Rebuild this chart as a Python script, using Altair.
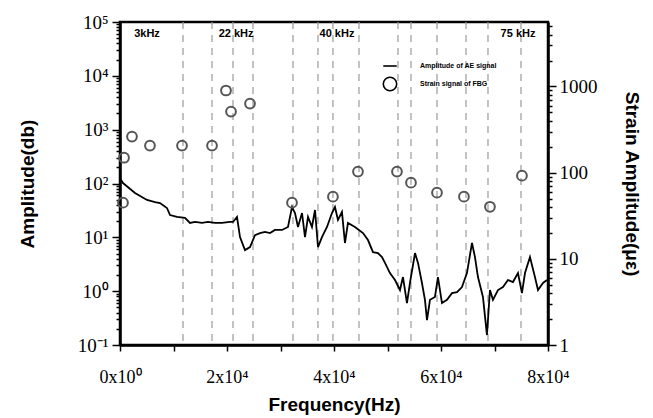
import altair as alt
import pandas as pd

# ---- data ----
freq = [0, 560, 2800, 5050, 6540, 7480, 8780, 9350, 10650, 12150, 13080, 14020, 15330, 16450,
        17760, 19060, 20560, 21120, 21870, 22430, 23360, 24300, 25230, 26170, 27100, 28040,
        28970, 30280, 31400, 32150, 32710, 33270, 34020, 34580, 35140, 35880, 36450, 37010,
        37750, 38690, 39620, 40180, 40740, 41490, 42050, 42610, 43920, 45420, 46350, 47290,
        48220, 48970, 49530, 50460, 51400, 52330, 52890, 53640, 54200, 55140, 55700, 56440,
        57000, 57380, 57940, 58870, 59430, 60180, 61120, 62050, 62990, 63920, 64850, 65790,
        66350, 66910, 67840, 68590, 69150, 69710, 70650, 71580, 72520, 73450, 74390, 75130,
        75700, 76630, 77560, 78130, 79060, 79800]
amp = [126, 102, 66.6, 49.4, 45.3, 43.4, 35.1, 26.0, 23.9, 22.9, 18.5, 19.3, 18.5, 19.3,
       18.5, 18.5, 19.3, 19.3, 23.9, 10.1, 5.8, 6.6, 11.0, 12.0, 12.6, 12.0,
       13.7, 13.7, 15.6, 36.6, 28.3, 15.6, 28.3, 10.1, 23.9, 15.6, 32.2, 6.6,
       10.1, 15.6, 28.3, 36.6, 21.0, 29.5, 7.85, 18.5, 15.6, 12.0, 8.9, 5.3,
       5.1, 4.3, 3.35, 2.17, 1.61, 1.05, 1.83, 0.60, 1.42, 5.1, 3.35, 1.42,
       0.69, 0.29, 0.69, 0.78, 1.83, 0.60, 0.69, 0.92, 0.96, 1.19, 2.17, 7.85,
       4.3, 1.83, 0.78, 0.153, 1.05, 0.69, 1.05, 1.19, 1.61, 1.48, 2.17, 0.92,
       2.17, 4.3, 1.83, 1.05, 1.42, 1.61]

circ_freq = [750, 560, 2240, 5600, 11590, 17200, 19810, 20750, 24300, 32150, 39800,
             44480, 51770, 54390, 59250, 64290, 69150, 75130]
circ_strain = [149, 44.8, 262, 206, 206, 206, 898, 512, 634, 44.8, 52.6,
               103, 103, 76.5, 58.5, 52.6, 40.2, 92.3]

vline_freq = [11780, 17200, 21120, 24860, 32330, 37000, 39800, 44670, 51960, 54390,
              59250, 64670, 68780, 74950]

ann_text = ["3kHz", "22 kHz", "40 kHz", "75 kHz"]
ann_freq = [5050, 21700, 40560, 74400]
ann_amp = [6.0e4, 6.0e4, 6.0e4, 6.0e4]

x_tick_values = [0, 10000, 20000, 30000, 40000, 50000, 60000, 70000, 80000]
x_tick_labels = ["0x10⁰", "", "2x10⁴", "", "4x10⁴", "", "6x10⁴", "", "8x10⁴"]

left_pow = [-1, 0, 1, 2, 3, 4, 5]
left_pow_labels = ["10⁻¹", "10⁰", "10¹", "10²", "10³", "10⁴", "10⁵"]
right_major = [1, 10, 100, 1000]

LINE_LABEL = "Amplitude of AE signal"
CIRC_LABEL = "Strain signal of FBG"

# ---- helpers ----
left_ticks = []
for p in left_pow[:-1]:
    for m in range(1, 10):
        left_ticks.append(round(m * 10 ** p, 6))
left_ticks.append(1e5)

right_ticks = []
for p in range(0, 4):
    for m in range(1, 10):
        v = m * 10 ** p
        if v <= 5600:
            right_ticks.append(v)


def ternary(vals, labels):
    expr = "''"
    for v, l in zip(vals, labels):
        expr = f"(abs(datum.value - {v}) < {abs(v) * 1e-6 + 1e-9}) ? '{l}' : " + expr
    return expr


x_label_expr = ternary(x_tick_values, x_tick_labels)
left_label_expr = ternary([10 ** p for p in left_pow], left_pow_labels)
right_label_expr = ternary(right_major, [str(v) for v in right_major])

is_pow10 = "abs(log(datum.value)/LN10 - round(log(datum.value)/LN10)) < 1e-6"

LABEL_FONT = "Liberation Serif"
TITLE_FONT = "Liberation Sans"

x_axis = alt.Axis(values=x_tick_values, labelExpr=x_label_expr, tickSize=6, tickWidth=1.5,
                  tickColor="black", labelFont=LABEL_FONT, labelFontSize=18, labelPadding=17,
                  titleFont=TITLE_FONT, titleFontSize=19, titleFontWeight="bold",
                  titlePadding=9, grid=False, labelFlush=False, labelOverlap=False)
x_enc = alt.X("freq:Q", scale=alt.Scale(domain=[0, 80000], nice=False, zero=False),
              axis=x_axis, title="Frequency(Hz)")

line_df = pd.DataFrame({"freq": freq, "amp": amp})
circ_df = pd.DataFrame({"freq": circ_freq, "strain": circ_strain,
                        "series": [CIRC_LABEL] * len(circ_freq)})
vline_df = pd.DataFrame({"freq": vline_freq})
ann_df = pd.DataFrame({"freq": ann_freq, "amp": ann_amp, "text": ann_text})

left_scale = alt.Scale(type="log", domain=[0.1, 1e5], nice=False)
left_axis = alt.Axis(values=left_ticks, labelExpr=left_label_expr,
                     tickSize={"condition": {"test": is_pow10, "value": 8}, "value": 4},
                     tickWidth=1.5, tickColor="black", labelFont=LABEL_FONT, labelFontSize=19,
                     labelPadding=4, titleFont=TITLE_FONT, titleFontSize=19,
                     titleFontWeight="bold", titlePadding=40, grid=False, labelOverlap=False)

rules = alt.Chart(vline_df).mark_rule(color="#9a9a9a", strokeWidth=1.6,
                                      strokeDash=[7, 6], opacity=0.75).encode(x=x_enc)

line = alt.Chart(line_df).mark_line(color="black", strokeWidth=1.8).encode(
    x=x_enc,
    y=alt.Y("amp:Q", scale=left_scale, axis=left_axis, title="Amplitude(db)"),
)

ann = alt.Chart(ann_df).mark_text(font=TITLE_FONT, fontSize=11, fontWeight="bold",
                                  color="black").encode(
    x=x_enc,
    y=alt.Y("amp:Q", scale=left_scale, axis=left_axis, title="Amplitude(db)"),
    text="text:N",
)

left_layer = alt.layer(rules, line, ann)

right_axis = alt.Axis(orient="right", values=right_ticks, labelExpr=right_label_expr,
                      tickSize={"condition": {"test": is_pow10, "value": 8}, "value": 4},
                      tickWidth=1.5, tickColor="black", labelFont=LABEL_FONT, labelFontSize=19,
                      labelPadding=3, titleFont=TITLE_FONT, titleFontSize=19,
                      titleFontWeight="bold", titlePadding=24, titleAngle=90, grid=False,
                      labelOverlap=False)

circles = alt.Chart(circ_df).mark_point(filled=False, size=95, strokeWidth=2.0,
                                        color="#555555", opacity=1).encode(
    x=x_enc,
    y=alt.Y("strain:Q", scale=alt.Scale(type="log", domain=[1, 5600], nice=False),
            axis=right_axis, title="Strain Amplitude(με)"),
    shape=alt.Shape("series:N",
                    scale=alt.Scale(domain=[LINE_LABEL, CIRC_LABEL], range=["stroke", "circle"]),
                    legend=alt.Legend(orient="none", legendX=262, legendY=36, title=None,
                                      labelFont=TITLE_FONT, labelFontSize=7,
                                      labelFontWeight="bold", symbolSize=180,
                                      symbolStrokeColor="black", symbolStrokeWidth=1.6,
                                      symbolFillColor="white", labelOffset=22, rowPadding=4)),
)

chart = alt.layer(left_layer, circles).resolve_scale(y="independent").properties(
    width=428, height=323,
    padding={"left": 120, "top": 22, "right": 105, "bottom": 73},
    autosize=alt.AutoSizeParams(type="none"),
    background="white",
).configure_view(stroke="black", strokeWidth=2.5).configure_axis(
    domainColor="black", domainWidth=2.5, labelColor="black", titleColor="black"
)

chart.save("out.html", embed_options={"renderer": "svg", "actions": False})
